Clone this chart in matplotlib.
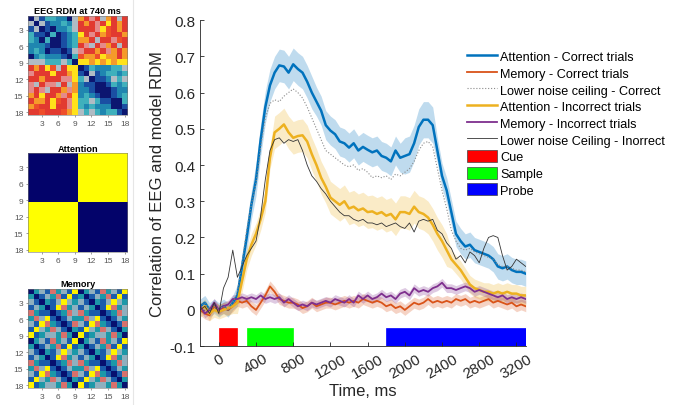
import matplotlib
matplotlib.use("Agg")
import matplotlib.pyplot as plt
import numpy as np
from matplotlib.colors import ListedColormap
from matplotlib.patches import Patch, Rectangle
from matplotlib.lines import Line2D

plt.rcParams["font.family"] = ["Liberation Sans", "DejaVu Sans"]

# ── data ───────────────────────────────────────────────────────────────────────
time_ms = np.arange(-200, 3301, 50)

att_correct = [0.01, 0.02, 0.00, 0.01, 0.00, 0.01, 0.00, 0.02, 0.04, 0.12,
               0.20, 0.29, 0.36, 0.47, 0.56, 0.62, 0.655, 0.675, 0.672, 0.655,
               0.678, 0.665, 0.655, 0.63, 0.60, 0.575, 0.55, 0.51, 0.495, 0.485,
               0.465, 0.46, 0.448, 0.46, 0.44, 0.45, 0.442, 0.435, 0.44, 0.425,
               0.42, 0.41, 0.44, 0.42, 0.425, 0.43, 0.46, 0.505, 0.525, 0.525,
               0.51, 0.44, 0.37, 0.33, 0.27, 0.21, 0.19, 0.175, 0.18, 0.165,
               0.16, 0.155, 0.15, 0.14, 0.12, 0.115, 0.12, 0.11, 0.105, 0.105, 0.10]
att_correct_sem = [0.02] * 8 + [0.03, 0.035, 0.04, 0.04, 0.045, 0.045, 0.045, 0.045] + \
                  [0.045] * 9 + [0.04] * 19 + [0.05] * 7 + [0.035] * 20

mem_correct = [0.00, -0.01, -0.015, 0.01, 0.00, 0.005, 0.00, 0.01, 0.025, 0.02,
               0.025, 0.01, 0.00, 0.02, 0.04, 0.065, 0.05, 0.03, 0.025, 0.02,
               0.02, 0.015, 0.005, 0.01, 0.02, 0.01, 0.015, 0.02, 0.02, 0.015,
               0.02, 0.025, 0.02, 0.025, 0.02, 0.03, 0.025, 0.02, 0.025, 0.02,
               0.01, 0.015, 0.005, 0.01, 0.00, 0.01, 0.02, 0.015, 0.02, 0.03,
               0.02, 0.025, 0.02, 0.025, 0.02, 0.03, 0.025, 0.03, 0.02, 0.025,
               0.02, 0.025, 0.03, 0.02, 0.025, 0.02, 0.015, 0.02, 0.01, 0.015, 0.01]
mem_correct_sem = 0.015

noise_correct = [0.01, 0.02, 0.00, 0.01, 0.00, 0.01, 0.00, 0.02, 0.05, 0.13,
                 0.22, 0.29, 0.35, 0.45, 0.53, 0.57, 0.58, 0.575, 0.59, 0.60,
                 0.61, 0.60, 0.585, 0.56, 0.53, 0.50, 0.47, 0.44, 0.43, 0.42,
                 0.41, 0.40, 0.395, 0.40, 0.385, 0.39, 0.38, 0.365, 0.37, 0.365,
                 0.37, 0.36, 0.375, 0.37, 0.38, 0.39, 0.41, 0.44, 0.46, 0.465,
                 0.45, 0.39, 0.33, 0.28, 0.22, 0.19, 0.17, 0.165, 0.17, 0.16,
                 0.155, 0.15, 0.145, 0.14, 0.125, 0.12, 0.12, 0.115, 0.11, 0.11, 0.105]

att_incorrect = [0.00, 0.01, -0.01, 0.00, -0.005, 0.00, 0.005, 0.01, 0.02, 0.08,
                 0.14, 0.18, 0.21, 0.25, 0.30, 0.42, 0.49, 0.50, 0.512, 0.49,
                 0.475, 0.48, 0.482, 0.465, 0.43, 0.40, 0.365, 0.34, 0.31, 0.30,
                 0.29, 0.30, 0.28, 0.285, 0.275, 0.28, 0.27, 0.272, 0.265, 0.27,
                 0.26, 0.265, 0.25, 0.27, 0.27, 0.265, 0.285, 0.27, 0.265, 0.255,
                 0.235, 0.21, 0.19, 0.165, 0.14, 0.125, 0.11, 0.09, 0.07, 0.06,
                 0.055, 0.05, 0.05, 0.045, 0.05, 0.045, 0.05, 0.045, 0.045, 0.04, 0.04]
att_incorrect_sem = [0.02] * 8 + [0.03] * 8 + [0.045] * 26 + [0.045] * 12 + [0.025] * 17

mem_incorrect = [0.01, -0.01, 0.00, 0.02, 0.00, 0.01, 0.015, 0.03, 0.03, 0.035,
                 0.03, 0.035, 0.03, 0.04, 0.03, 0.035, 0.03, 0.035, 0.02, 0.03,
                 0.02, 0.01, 0.015, 0.01, 0.02, 0.015, 0.02, 0.025, 0.02, 0.03,
                 0.025, 0.02, 0.03, 0.02, 0.04, 0.03, 0.04, 0.03, 0.035, 0.045,
                 0.035, 0.04, 0.03, 0.045, 0.05, 0.04, 0.06, 0.05, 0.055, 0.05,
                 0.06, 0.065, 0.075, 0.06, 0.06, 0.055, 0.06, 0.065, 0.06, 0.05,
                 0.055, 0.05, 0.045, 0.04, 0.035, 0.04, 0.03, 0.035, 0.03, 0.035, 0.03]
mem_incorrect_sem = 0.012

noise_incorrect = [0.00, 0.01, -0.01, 0.02, -0.01, 0.06, 0.09, 0.165, 0.09, 0.12,
                   0.15, 0.17, 0.19, 0.26, 0.36, 0.44, 0.47, 0.475, 0.46, 0.47,
                   0.465, 0.47, 0.44, 0.40, 0.37, 0.355, 0.335, 0.32, 0.30, 0.285,
                   0.27, 0.26, 0.26, 0.25, 0.245, 0.25, 0.24, 0.24, 0.235, 0.24,
                   0.23, 0.235, 0.24, 0.23, 0.225, 0.24, 0.215, 0.245, 0.25, 0.245,
                   0.25, 0.22, 0.21, 0.185, 0.17, 0.14, 0.15, 0.13, 0.16, 0.15,
                   0.13, 0.17, 0.20, 0.205, 0.20, 0.15, 0.11, 0.12, 0.14, 0.13, 0.12]

# task epochs (ms)
epoch_names = ["Cue", "Sample", "Probe"]
epoch_start = [0, 300, 1800]
epoch_end = [200, 800, 3300]
epoch_colors = ["#ff0000", "#00ff00", "#0000ff"]

# left panels: RDM levels
eeg_rdm_rows = [
    "041332204" "865648646",
    "404122324" "686569686",
    "140102234" "666597686",
    "311030123" "965687668",
    "320300123" "886466576",
    "222100123" "654658646",
    "232011014" "566865868",
    "023222103" "788798868",
    "444333430" "998989899",
    "686974699" "013222334",
    "566696689" "104123323",
    "668666559" "340112434",
    "546554648" "211001323",
    "565466858" "221000122",
    "869668579" "232100123",
    "688697659" "334311003",
    "876696659" "323222001",
    "667666789" "434323310",
]
attention_model = [[0, 1], [1, 0]]
memory_block = [
    [0, 2, 3, 1, 4, 2, 3, 1, 5],
    [2, 0, 1, 3, 2, 4, 1, 5, 1],
    [3, 1, 0, 2, 1, 3, 5, 3, 2],
    [1, 3, 2, 0, 1, 5, 4, 2, 3],
    [4, 2, 1, 1, 0, 1, 2, 4, 3],
    [2, 4, 3, 5, 1, 0, 1, 3, 2],
    [3, 1, 5, 4, 2, 1, 0, 1, 4],
    [1, 5, 3, 2, 4, 3, 1, 0, 2],
    [5, 1, 2, 3, 3, 2, 4, 2, 0],
]


def main():
    fig = plt.figure(figsize=(6.81, 4.06), dpi=100)

    # ── left RDM panels ────────────────────────────────────────────────────────
    eeg = np.array([[int(c) for c in r] for r in eeg_rdm_rows])
    att = np.kron(np.array(attention_model), np.ones((9, 9)))
    mem = np.tile(np.array(memory_block), (2, 2))

    eeg_cmap = ListedColormap(["#0c1670", "#1a4fa3", "#1f86b0", "#3fb0bc", "#b0bcc4",
                               "#e58a8a", "#e23a30", "#ee4e2a", "#f59a2a", "#ffe21a"])
    att_cmap = ListedColormap(["#03036a", "#ffff00"])
    mem_cmap = ListedColormap(["#07106e", "#1b5cab", "#1c98a8", "#8fb0bf", "#d8706c", "#fff200"])

    panels = [
        (eeg, eeg_cmap, 9, "EEG RDM at 740 ms", 0.714),
        (att, att_cmap, 1, "Attention", 0.376),
        (mem, mem_cmap, 5, "Memory", 0.042),
    ]
    for mat, cmap, vmax, title, bottom in panels:
        ax = fig.add_axes([0.041, bottom, 0.146, 0.244])
        ax.imshow(mat, cmap=cmap, vmin=0, vmax=vmax, interpolation="nearest",
                  extent=(0.5, 18.5, 18.5, 0.5), aspect="auto")
        ax.set_xticks([3, 6, 9, 12, 15, 18])
        ax.set_yticks([3, 6, 9, 12, 15, 18])
        ax.tick_params(labelsize=6.0, length=1.5, width=0.4, colors="#555555", pad=1.8)
        ax.set_title(title, fontsize=6.6, fontweight="bold", pad=2)
        for s in ax.spines.values():
            s.set_linewidth(0.4); s.set_color("#777777")

    fig.add_artist(Line2D([0.196, 0.196], [0.0, 1.0], color="#e6e6e6", lw=0.8,
                          transform=fig.transFigure))

    # ── main time course ───────────────────────────────────────────────────────
    ax = fig.add_axes([0.294, 0.145, 0.478, 0.803])

    series = [
        (att_correct, att_correct_sem, "#0072bd", 1.8, "Attention - Correct trials"),
        (mem_correct, mem_correct_sem, "#d95319", 1.3, "Memory - Correct trials"),
        (att_incorrect, att_incorrect_sem, "#edb120", 1.8, "Attention - Incorrect trials"),
        (mem_incorrect, mem_incorrect_sem, "#7e2f8e", 1.3, "Memory - Incorrect trials"),
    ]
    lines = {}
    for y, sem, col, lw, lab in series:
        y = np.asarray(y); sem = np.broadcast_to(np.asarray(sem, dtype=float), y.shape)
        ax.fill_between(time_ms, y - sem, y + sem, color=col, alpha=0.25, lw=0)
        lines[lab], = ax.plot(time_ms, y, color=col, lw=lw, label=lab)

    nc, = ax.plot(time_ms, noise_correct, color="#8a8a8a", lw=0.8, ls=":",
                  label="Lower noise ceiling - Correct")
    ni, = ax.plot(time_ms, noise_incorrect, color="#333333", lw=0.6,
                  label="Lower noise Ceiling - Inorrect")

    for s, e, c in zip(epoch_start, epoch_end, epoch_colors):
        ax.add_patch(Rectangle((s, -0.1), e - s, 0.05, facecolor=c, edgecolor=c, lw=0.5))

    ax.set_xlim(-200, 3300)
    ax.set_ylim(-0.1, 0.8)
    ax.set_xticks(range(0, 3201, 400))
    ax.set_yticks([-0.1, 0, 0.1, 0.2, 0.3, 0.4, 0.5, 0.6, 0.7, 0.8])
    ax.set_yticklabels(["-0.1", "0", "0.1", "0.2", "0.3", "0.4", "0.5", "0.6", "0.7", "0.8"])
    ax.tick_params(direction="in", labelsize=11, length=3, width=0.6, colors="#262626")
    plt.setp(ax.get_xticklabels(), rotation=30, ha="center", va="top")
    ax.spines["top"].set_visible(False)
    ax.spines["right"].set_visible(False)
    for s in ("left", "bottom"):
        ax.spines[s].set_linewidth(0.6); ax.spines[s].set_color("#262626")
    ax.set_xlabel("Time, ms", fontsize=12, color="#262626", labelpad=2)
    ax.set_ylabel("Correlation of EEG and model RDM", fontsize=12, color="#262626", labelpad=3)

    handles = [lines["Attention - Correct trials"], lines["Memory - Correct trials"], nc,
               lines["Attention - Incorrect trials"], lines["Memory - Incorrect trials"], ni]
    handles += [Patch(facecolor=c, edgecolor="#444444", lw=0.5, label=n)
                for n, c in zip(epoch_names, epoch_colors)]
    fig.legend(handles=handles, loc="upper left", bbox_to_anchor=(0.677, 0.89),
               bbox_transform=fig.transFigure, frameon=False, fontsize=9.1,
               borderpad=0, labelspacing=0.26, handlelength=2.35, handleheight=1.1,
               handletextpad=0.25)

    fig.savefig("out.png", dpi=100)
    plt.close(fig)


if __name__ == "__main__":
    main()
